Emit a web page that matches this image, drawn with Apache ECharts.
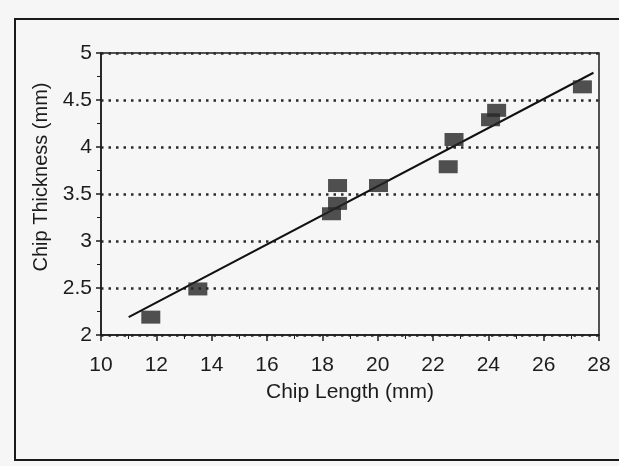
<!DOCTYPE html>
<html>
<head>
<meta charset="utf-8">
<script src="https://cdn.jsdelivr.net/npm/echarts@6/dist/echarts.min.js"></script>
<style>
  html, body { margin: 0; padding: 0; background: #f6f6f6; }
  #chart { width: 619px; height: 466px; }
</style>
</head>
<body>
<div id="chart"></div>
<script>
// measured chip samples
const chipLength = [11.8, 13.5, 18.55, 18.55, 18.33, 20.03, 22.55, 22.76, 24.08, 24.3, 27.4];
const chipThickness = [2.19, 2.49, 3.59, 3.4, 3.29, 3.59, 3.79, 4.08, 4.29, 4.39, 4.64];

// fitted line end points
const fitLength = [11.0, 27.8];
const fitThickness = [2.19, 4.79];

const ink = "#1c1c1c";
const font = "Liberation Sans, Arial, sans-serif";

const chart = echarts.init(document.getElementById("chart"), null, { renderer: "canvas" });

chart.setOption({
  backgroundColor: "#f6f6f6",
  animation: false,
  graphic: [
    {
      type: "rect",
      shape: { x: 15, y: 19, width: 640, height: 441 },
      style: { fill: "none", stroke: "#1a1a1a", lineWidth: 2 },
      silent: true,
    },
  ],
  grid: {
    left: 101, right: 20, top: 53, bottom: 131,
    show: true, borderColor: ink, borderWidth: 1.5,
  },
  xAxis: {
    type: "value",
    min: 10, max: 28, interval: 2,
    name: "Chip Length (mm)",
    nameLocation: "middle",
    nameGap: 47,
    nameTextStyle: { color: ink, fontSize: 21, fontFamily: font },
    axisLine: { onZero: false, lineStyle: { color: ink, width: 1.5 } },
    axisTick: { length: 6, lineStyle: { color: ink, width: 1.5 } },
    minorTick: { show: true, splitNumber: 2, length: 4, lineStyle: { color: ink, width: 1 } },
    axisLabel: { color: ink, fontSize: 21, fontFamily: font, margin: 20 },
    splitLine: { show: false },
  },
  yAxis: {
    type: "value",
    min: 2, max: 5, interval: 0.5,
    name: "Chip Thickness (mm)",
    nameLocation: "middle",
    nameGap: 50,
    nameTextStyle: { color: ink, fontSize: 20, fontFamily: font, padding: [0, 0, 0, 34] },
    axisLine: { onZero: false, lineStyle: { color: ink, width: 1.5 } },
    axisTick: { length: 5, lineStyle: { color: ink, width: 1.5 } },
    minorTick: { show: true, splitNumber: 2, length: 4, lineStyle: { color: ink, width: 1 } },
    axisLabel: {
      color: ink, fontSize: 21, fontFamily: font, margin: 9,
      formatter: (v) => String(v),
    },
    splitLine: { show: true, lineStyle: { color: "#2a2a2a", width: 2.5, type: [2.5, 5] } },
  },
  series: [
    {
      type: "line",
      data: fitLength.map((x, i) => [x, fitThickness[i]]),
      symbol: "none",
      lineStyle: { color: "#111", width: 2 },
      z: 3,
    },
    {
      type: "scatter",
      data: chipLength.map((x, i) => [x, chipThickness[i]]),
      symbol: "rect",
      symbolSize: [19, 13],
      itemStyle: { color: "#262626" },
      z: 4,
    },
  ],
});
</script>
</body>
</html>
